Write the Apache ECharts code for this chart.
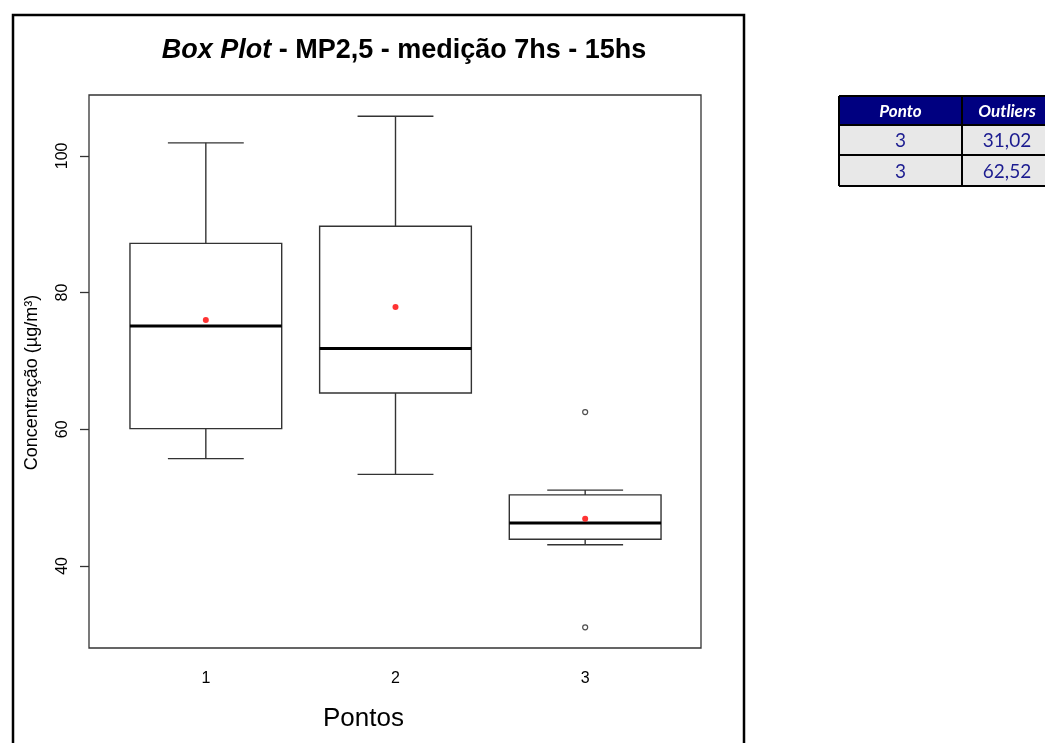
<!DOCTYPE html>
<html>
<head>
<meta charset="utf-8">
<script src="https://cdn.jsdelivr.net/npm/echarts@6/dist/echarts.min.js"></script>
<style>
  html, body { margin: 0; padding: 0; background: #fff; }
  #chart { width: 1045px; height: 743px; }
</style>
</head>
<body>
<div id="chart"></div>
<script>
// box plot stats per ponto
const categories = ['1', '2', '3'];
const whiskerLow = [55.7, 53.4, 43.1];
const q1 = [60.1, 65.3, 43.9];
const median = [75.1, 71.8, 46.3];
const q3 = [87.2, 89.7, 50.4];
const whiskerHigh = [101.9, 105.8, 51.1];
const means = [76.0, 77.9, 46.9];

// outliers (also listed in the side table)
const outlierPonto = ['3', '3'];
const outlierValues = [31.02, 62.52];

const yTicks = [40, 60, 80, 100];

const chart = echarts.init(document.getElementById('chart'));

const boxData = categories.map((c, i) => [i, whiskerLow[i], q1[i], median[i], q3[i], whiskerHigh[i]]);
const meanData = categories.map((c, i) => [i, means[i]]);
const outlierData = outlierPonto.map((p, i) => [categories.indexOf(p), outlierValues[i]]);

const fmt = v => v.toFixed(2).replace('.', ',');

// side table built from the outlier arrays
const tableX = [839, 962, 1060];
const rowY = [96, 125, 155, 186];
const tableChildren = [];
tableChildren.push({ type: 'rect', shape: { x: tableX[0], y: rowY[0], width: tableX[2] - tableX[0], height: rowY[1] - rowY[0] }, style: { fill: '#000080' } });
tableChildren.push({ type: 'rect', shape: { x: tableX[0], y: rowY[1], width: tableX[2] - tableX[0], height: rowY[3] - rowY[1] }, style: { fill: '#e8e8e8' } });
['Ponto', 'Outliers'].forEach((h, j) => {
  tableChildren.push({
    type: 'text',
    style: {
      x: (tableX[j] + Math.min(tableX[j + 1], 1052)) / 2, y: (rowY[0] + rowY[1]) / 2 + 1,
      text: h, align: 'center', verticalAlign: 'middle',
      fill: '#fff', font: 'italic bold 17px Lato, "Open Sans", sans-serif'
    }
  });
});
outlierPonto.forEach((p, i) => {
  [p, fmt(outlierValues[i])].forEach((t, j) => {
    tableChildren.push({
      type: 'text',
      style: {
        x: (tableX[j] + Math.min(tableX[j + 1], 1052)) / 2, y: (rowY[i + 1] + rowY[i + 2]) / 2 + 1,
        text: t, align: 'center', verticalAlign: 'middle',
        fill: '#1c1c90', font: '19px Lato, "Open Sans", sans-serif'
      }
    });
  });
});
rowY.forEach(y => {
  tableChildren.push({ type: 'line', shape: { x1: tableX[0], y1: y, x2: tableX[2], y2: y }, style: { stroke: '#000', lineWidth: 2 } });
});
tableX.forEach(x => {
  tableChildren.push({ type: 'line', shape: { x1: x, y1: rowY[0], x2: x, y2: rowY[3] }, style: { stroke: '#000', lineWidth: 2 } });
});

const option = {
  animation: false,
  backgroundColor: '#fff',
  textStyle: { fontFamily: '"Liberation Sans", Arial, sans-serif' },
  graphic: [
    {
      type: 'rect',
      shape: { x: 13, y: 15, width: 731, height: 760 },
      style: { fill: null, stroke: '#000', lineWidth: 2.5 },
      silent: true
    },
    {
      type: 'text',
      style: {
        x: 404, y: 51,
        text: '{i|Box Plot}{b| - MP2,5 - medição 7hs - 15hs}',
        align: 'center', verticalAlign: 'middle',
        rich: {
          i: { fontSize: 27, fontWeight: 'bold', fontStyle: 'italic', fontFamily: '"Liberation Sans", Arial, sans-serif', fill: '#000' },
          b: { fontSize: 27, fontWeight: 'bold', fontFamily: '"Liberation Sans", Arial, sans-serif', fill: '#000' }
        }
      }
    },
    { type: 'group', children: tableChildren, silent: true }
  ],
  grid: [
    // frame
    { left: 89, top: 95, width: 612, height: 553, show: true, borderColor: '#333', borderWidth: 1.3, backgroundColor: 'transparent' },
    // data area (x range 0.5 .. 3.5)
    { left: 111, top: 95, width: 569, height: 553 }
  ],
  xAxis: [
    { gridIndex: 0, type: 'value', show: false, min: 0, max: 1 },
    {
      gridIndex: 1, type: 'category', data: categories,
      axisLine: { show: false },
      axisTick: { alignWithLabel: true, length: 9, lineStyle: { color: '#333', width: 1.3 } },
      axisLabel: { color: '#000', fontSize: 16, margin: 23 },
      name: 'Pontos', nameLocation: 'middle', nameGap: 58,
      nameTextStyle: { color: '#000', fontSize: 26, padding: [0, 64, 0, 0] },
      splitLine: { show: false }
    }
  ],
  yAxis: [
    { gridIndex: 0, type: 'value', show: false, min: 0, max: 1 },
    {
      gridIndex: 1, type: 'value', min: 28, max: 108.9, offset: 22,
      axisLine: { show: false },
      axisTick: { show: true, length: 9, customValues: yTicks, lineStyle: { color: '#333', width: 1.3 } },
      axisLabel: { customValues: yTicks, rotate: 90, color: '#000', fontSize: 16, margin: 18 },
      splitLine: { show: false },
      name: 'Concentração (µg/m³)', nameLocation: 'middle', nameGap: 48, nameRotate: 90,
      nameTextStyle: { color: '#000', fontSize: 18, padding: [0, 22, 0, 0] }
    }
  ],
  series: [
    {
      type: 'custom',
      xAxisIndex: 1, yAxisIndex: 1,
      data: boxData,
      encode: { x: 0, y: [1, 2, 3, 4, 5] },
      renderItem: function (params, api) {
        const x = api.value(0);
        const pLow = api.coord([x, api.value(1)]);
        const pQ1 = api.coord([x, api.value(2)]);
        const pMed = api.coord([x, api.value(3)]);
        const pQ3 = api.coord([x, api.value(4)]);
        const pHigh = api.coord([x, api.value(5)]);
        const boxW = api.size([1, 0])[0] * 0.8;
        const capW = boxW / 2;
        const cx = pMed[0];
        const st = { stroke: '#333', lineWidth: 1.4, fill: null };
        return {
          type: 'group',
          children: [
            { type: 'line', shape: { x1: cx, y1: pQ1[1], x2: cx, y2: pLow[1] }, style: st },
            { type: 'line', shape: { x1: cx, y1: pQ3[1], x2: cx, y2: pHigh[1] }, style: st },
            { type: 'line', shape: { x1: cx - capW / 2, y1: pLow[1], x2: cx + capW / 2, y2: pLow[1] }, style: st },
            { type: 'line', shape: { x1: cx - capW / 2, y1: pHigh[1], x2: cx + capW / 2, y2: pHigh[1] }, style: st },
            {
              type: 'rect',
              shape: { x: cx - boxW / 2, y: pQ3[1], width: boxW, height: pQ1[1] - pQ3[1] },
              style: { stroke: '#333', lineWidth: 1.4, fill: '#fff' }
            },
            { type: 'line', shape: { x1: cx - boxW / 2, y1: pMed[1], x2: cx + boxW / 2, y2: pMed[1] }, style: { stroke: '#000', lineWidth: 3 } }
          ]
        };
      }
    },
    {
      type: 'scatter', name: 'média',
      xAxisIndex: 1, yAxisIndex: 1, z: 5,
      data: meanData, symbol: 'circle', symbolSize: 6,
      itemStyle: { color: '#ff0000' }
    },
    {
      type: 'scatter', name: 'outliers',
      xAxisIndex: 1, yAxisIndex: 1, z: 5,
      data: outlierData, symbol: 'circle', symbolSize: 5,
      itemStyle: { color: '#fff', borderColor: '#222', borderWidth: 1.2 }
    }
  ]
};

chart.setOption(option);
</script>
</body>
</html>
